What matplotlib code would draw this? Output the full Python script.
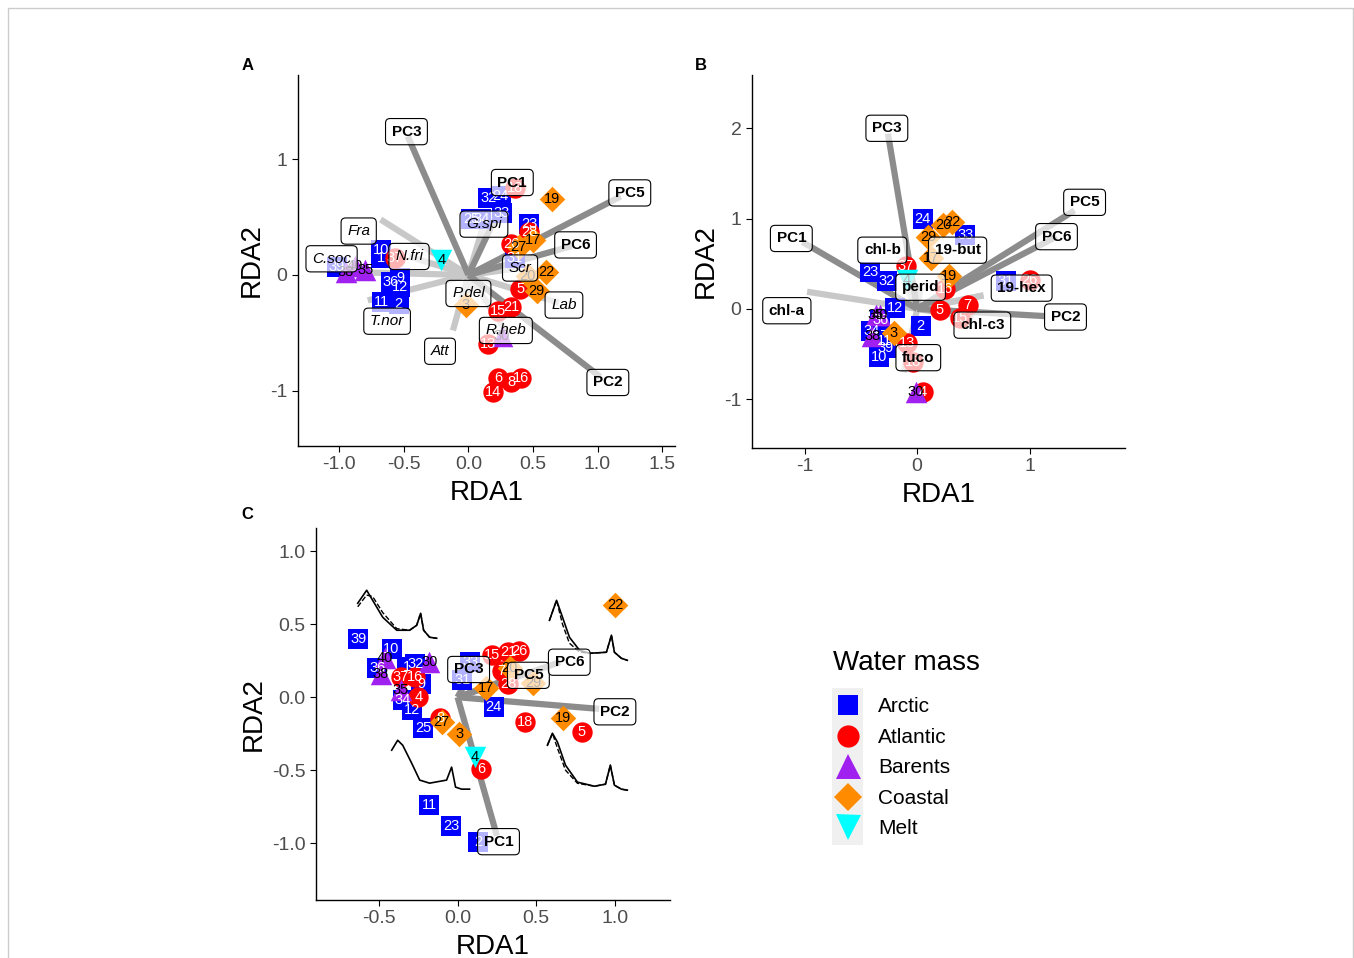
import matplotlib.pyplot as plt
from matplotlib.lines import Line2D
from matplotlib.patches import Rectangle

plt.rcParams['font.family'] = ['Liberation Sans', 'DejaVu Sans']
plt.rcParams['axes.unicode_minus'] = False

masses = ['Arctic', 'Atlantic', 'Barents', 'Coastal', 'Melt']
mass_col = {'Arctic': '#0000ff', 'Atlantic': '#ff0000', 'Barents': '#a020f0',
            'Coastal': '#ff8c00', 'Melt': '#00ffff'}
mass_mk = {'Arctic': 's', 'Atlantic': 'o', 'Barents': '^', 'Coastal': 'D', 'Melt': 'v'}
mass_sz = {'Arctic': 200, 'Atlantic': 215, 'Barents': 240, 'Coastal': 170, 'Melt': 240}
mass_txt = {'Arctic': 'white', 'Atlantic': 'white', 'Barents': 'black',
            'Coastal': 'black', 'Melt': 'black'}

# ---- panel A: samples
a_id = ['32', '24', '33', '25', '34', '23', '31', '10', '1', '39', '36', '9', '12', '11', '2',
        '18', '28', '26', '37', '5', '15', '21', '13', '6', '8', '16', '14',
        '38', '40', '35', '30',
        '19', '22', '29', '27', '17', '3', '20',
        '4']
a_x = [0.155, 0.25, 0.26, 0.02, 0.10, 0.47, 0.36, -0.68, -0.68, -1.02, -0.60, -0.53, -0.53, -0.67, -0.54,
       0.36, 0.47, 0.33, -0.57, 0.40, 0.23, 0.33, 0.15, 0.23, 0.33, 0.41, 0.19,
       -0.95, -0.88, -0.80, 0.26,
       0.65, 0.60, 0.53, 0.39, 0.50, -0.02, 0.46,
       -0.21]
a_y = [0.67, 0.68, 0.54, 0.48, 0.48, 0.44, 0.15, 0.22, 0.15, 0.07, -0.06, -0.03, -0.10, -0.23, -0.25,
       0.75, 0.37, 0.27, 0.15, -0.12, -0.31, -0.28, -0.60, -0.89, -0.93, -0.89, -1.01,
       0.03, 0.08, 0.04, -0.53,
       0.66, 0.03, -0.14, 0.24, 0.30, -0.26, -0.01,
       0.13]
a_mass = ['Arctic'] * 15 + ['Atlantic'] * 12 + ['Barents'] * 4 + ['Coastal'] * 7 + ['Melt']

# panel A: vectors (tip) and label positions
a_vec = ['PC3', 'PC1', 'PC5', 'PC6', 'PC2',
         'Fra', 'C.soc', 'N.fri', 'T.nor', 'Att', 'P.del', 'R.heb', 'Lab', 'Scr', 'G.spi']
a_vx = [-0.47, 0.33, 1.18, 0.80, 1.02, -0.68, -0.75, -0.46, -0.78, -0.12, 0.0, 0.29, 0.70, 0.40, 0.12]
a_vy = [1.20, 0.78, 0.68, 0.25, -0.88, 0.48, 0.02, 0.16, -0.22, -0.48, -0.16, -0.48, -0.24, 0.06, 0.44]
a_lx = [-0.48, 0.34, 1.25, 0.83, 1.08, -0.85, -1.06, -0.46, -0.63, -0.22, 0.0, 0.29, 0.74, 0.40, 0.12]
a_ly = [1.24, 0.80, 0.71, 0.26, -0.93, 0.38, 0.14, 0.16, -0.40, -0.66, -0.16, -0.48, -0.26, 0.06, 0.44]
a_kind = ['pc'] * 5 + ['sp'] * 10

# ---- panel B: samples
b_id = ['24', '33', '23', '32', '12', '2', '31', '34', '11', '39', '10', '36',
        '37', '5', '7', '15', '13', '18', '26', '16', '4',
        '30', '35', '40', '38',
        '29', '20', '22', '17', '19', '3',
        '4']
b_x = [0.05, 0.43, -0.42, -0.27, -0.20, 0.03, 0.79, -0.41, -0.29, -0.28, -0.34, -0.33,
       -0.10, 0.20, 0.45, 0.38, -0.09, -0.04, 1.00, 0.25, 0.05,
       -0.01, -0.37, -0.33, -0.40,
       0.10, 0.23, 0.31, 0.12, 0.28, -0.21,
       -0.09]
b_y = [0.99, 0.82, 0.41, 0.31, 0.01, -0.19, 0.31, -0.24, -0.35, -0.43, -0.53, -0.12,
       0.48, -0.01, 0.04, -0.10, -0.38, -0.59, 0.32, 0.22, -0.92,
       -0.92, -0.07, -0.07, -0.30,
       0.80, 0.93, 0.96, 0.56, 0.36, -0.27,
       0.32]
b_mass = ['Arctic'] * 12 + ['Atlantic'] * 9 + ['Barents'] * 4 + ['Coastal'] * 6 + ['Melt']

b_vec = ['PC3', 'PC1', 'PC5', 'PC6', 'PC2',
         'chl-a', 'chl-b', '19-but', 'perid', '19-hex', 'chl-c3', 'fuco']
b_vx = [-0.26, -1.02, 1.40, 1.24, 1.14, -0.98, -0.12, 0.59, 0.03, 0.59, 0.50, -0.12]
b_vy = [1.94, 0.74, 1.09, 0.80, -0.08, 0.19, 0.30, 0.15, 0.24, 0.15, -0.10, -0.70]
b_lx = [-0.27, -1.12, 1.49, 1.24, 1.32, -1.16, -0.31, 0.36, 0.03, 0.93, 0.58, 0.01]
b_ly = [2.00, 0.78, 1.18, 0.80, -0.09, -0.02, 0.65, 0.65, 0.24, 0.23, -0.18, -0.54]
b_kind = ['pc'] * 5 + ['sp'] * 7

# ---- panel C: samples
c_id = ['39', '10', '36', '1', '32', '9', '34', '12', '33', '31', '24', '25', '11', '23', '2',
        '15', '21', '26', '7', '28', '37', '16', '4', '18', '5', '6', '8',
        '40', '38', '30', '35',
        '22', '20', '29', '17', '19', '27', '3',
        '4']
c_x = [-0.63, -0.42, -0.51, -0.32, -0.27, -0.23, -0.35, -0.29, 0.08, 0.03, 0.23, -0.22, -0.18, -0.04, 0.13,
       0.22, 0.32, 0.39, 0.28, 0.32, -0.36, -0.27, -0.25, 0.43, 0.79, 0.15, -0.11,
       -0.46, -0.49, -0.18, -0.36,
       1.00, 0.33, 0.48, 0.18, 0.67, -0.10, 0.01,
       0.11]
c_y = [0.40, 0.33, 0.20, 0.21, 0.23, 0.09, -0.02, -0.09, 0.24, 0.12, -0.07, -0.21, -0.74, -0.88, -0.99,
       0.29, 0.31, 0.32, 0.18, 0.09, 0.14, 0.14, 0.0, -0.17, -0.24, -0.49, -0.14,
       0.27, 0.16, 0.24, 0.05,
       0.63, 0.20, 0.10, 0.06, -0.14, -0.17, -0.25,
       -0.41]
c_mass = ['Arctic'] * 15 + ['Atlantic'] * 12 + ['Barents'] * 4 + ['Coastal'] * 7 + ['Melt']

c_vec = ['PC1', 'PC2', 'PC3', 'PC5', 'PC6']
c_vx = [0.25, 0.90, 0.06, 0.39, 0.65]
c_vy = [-0.95, -0.08, 0.12, 0.15, 0.24]
c_lx = [0.26, 1.00, 0.07, 0.45, 0.71]
c_ly = [-0.99, -0.10, 0.19, 0.15, 0.24]
c_kind = ['pc'] * 5

# loading spectra drawn in panel C
s1_x = [-0.635, -0.578, -0.54, -0.476, -0.387, -0.305, -0.26, -0.235, -0.216, -0.178, -0.133]
s1_y = [0.644, 0.733, 0.664, 0.548, 0.459, 0.459, 0.493, 0.575, 0.459, 0.411, 0.404]
s1_yd = [0.62, 0.70, 0.69, 0.58, 0.47, 0.459, 0.493, 0.575, 0.459, 0.411, 0.404]
s2_x = [0.584, 0.629, 0.667, 0.711, 0.775, 0.838, 0.946, 0.978, 0.997, 1.041, 1.079]
s2_y = [0.527, 0.664, 0.548, 0.411, 0.322, 0.301, 0.308, 0.425, 0.308, 0.267, 0.253]
s2_yd = [0.527, 0.664, 0.50, 0.37, 0.31, 0.301, 0.308, 0.425, 0.308, 0.267, 0.253]
s3_x = [-0.419, -0.381, -0.349, -0.292, -0.241, -0.178, -0.07, -0.038, -0.013, 0.025, 0.076]
s3_y = [-0.363, -0.295, -0.329, -0.452, -0.568, -0.589, -0.568, -0.479, -0.616, -0.630, -0.630]
s4_x = [0.571, 0.603, 0.635, 0.686, 0.762, 0.870, 0.940, 0.971, 0.997, 1.041, 1.079]
s4_y = [-0.329, -0.247, -0.308, -0.466, -0.582, -0.610, -0.596, -0.466, -0.603, -0.630, -0.637]
s4_yd = [-0.329, -0.247, -0.35, -0.50, -0.59, -0.610, -0.596, -0.466, -0.603, -0.630, -0.637]


def draw_panel(ax, ids, xs, ys, mass, vec, vx, vy, lx, ly, kind, italic=False):
    for name, x, y, k in zip(vec, vx, vy, kind):
        col = '#8c8c8c' if k == 'pc' else '#c8c8c8'
        ax.plot([0, x], [0, y], color=col, lw=4.5, solid_capstyle='butt',
                zorder=2 if k == 'pc' else 1)
    for m in masses:
        px = [x for x, g in zip(xs, mass) if g == m]
        py = [y for y, g in zip(ys, mass) if g == m]
        ax.scatter(px, py, marker=mass_mk[m], s=mass_sz[m], color=mass_col[m],
                   linewidths=0, zorder=3)
    for t, x, y, g in zip(ids, xs, ys, mass):
        ax.text(x, y, t, ha='center', va='center', fontsize=10.5,
                color=mass_txt[g], zorder=4)
    for name, x, y, k in zip(vec, lx, ly, kind):
        style = 'italic' if (italic and k == 'sp') else 'normal'
        weight = 'normal' if (italic and k == 'sp') else 'bold'
        ax.text(x, y, name, ha='center', va='center', fontsize=11,
                fontstyle=style, fontweight=weight, zorder=5,
                bbox=dict(boxstyle='round,pad=0.4,rounding_size=0.3',
                          fc=(1, 1, 1, 0.7), ec='black', lw=0.8))
    for s in ['top', 'right']:
        ax.spines[s].set_visible(False)
    for s in ['left', 'bottom']:
        ax.spines[s].set_linewidth(1.0)
    ax.tick_params(labelsize=14, labelcolor='#4d4d4d', length=4, width=0.8)
    ax.set_xlabel('RDA1', fontsize=20, labelpad=5)
    ax.set_ylabel('RDA2', fontsize=20, labelpad=4)


fig = plt.figure(figsize=(13.54, 9.58), dpi=100)
fig.patches.append(Rectangle((8 / 1354, -0.01), 1345 / 1354, 1.0016, transform=fig.transFigure,
                             fill=False, ec='#cccccc', lw=1.0))

axA = fig.add_axes([0.2201, 0.5344, 0.2784, 0.3873])
draw_panel(axA, a_id, a_x, a_y, a_mass, a_vec, a_vx, a_vy, a_lx, a_ly, a_kind, italic=True)
axA.set_xlim(-1.32, 1.60)
axA.set_ylim(-1.48, 1.73)
axA.set_xticks([-1.0, -0.5, 0.0, 0.5, 1.0, 1.5])
axA.set_xticklabels(['-1.0', '-0.5', '0.0', '0.5', '1.0', '1.5'])
axA.set_yticks([-1, 0, 1])
axA.set_yticklabels(['-1', '0', '1'])

axB = fig.add_axes([0.5554, 0.5324, 0.2755, 0.3893])
draw_panel(axB, b_id, b_x, b_y, b_mass, b_vec, b_vx, b_vy, b_lx, b_ly, b_kind)
axB.set_xlim(-1.47, 1.85)
axB.set_ylim(-1.54, 2.59)
axB.set_xticks([-1, 0, 1])
axB.set_xticklabels(['-1', '0', '1'])
axB.set_yticks([-1, 0, 1, 2])
axB.set_yticklabels(['-1', '0', '1', '2'])

axC = fig.add_axes([0.2334, 0.0605, 0.2614, 0.3884])
draw_panel(axC, c_id, c_x, c_y, c_mass, c_vec, c_vx, c_vy, c_lx, c_ly, c_kind)
for sx, sy in [(s1_x, s1_y), (s2_x, s2_y), (s3_x, s3_y), (s4_x, s4_y)]:
    axC.plot(sx, sy, color='black', lw=1.2, zorder=2)
for sx, sy in [(s1_x, s1_yd), (s2_x, s2_yd), (s4_x, s4_yd)]:
    axC.plot(sx, sy, color='black', lw=1.0, ls='--', zorder=2)
axC.set_xlim(-0.90, 1.35)
axC.set_ylim(-1.39, 1.16)
axC.set_xticks([-0.5, 0.0, 0.5, 1.0])
axC.set_xticklabels(['-0.5', '0.0', '0.5', '1.0'])
axC.set_yticks([-1.0, -0.5, 0.0, 0.5, 1.0])
axC.set_yticklabels(['-1.0', '-0.5', '0.0', '0.5', '1.0'])

fig.text(0.183, 0.932, 'A', fontsize=12, fontweight='bold', ha='center', va='center')
fig.text(0.518, 0.932, 'B', fontsize=12, fontweight='bold', ha='center', va='center')
fig.text(0.183, 0.463, 'C', fontsize=12, fontweight='bold', ha='center', va='center')

# legend
fig.patches.append(Rectangle((832 / 1354, 1 - 845 / 958), 31 / 1354, 157 / 958,
                             transform=fig.transFigure, fc='#f0f0f0', ec='none', zorder=1))
fig.text(833 / 1354, 1 - 663 / 958, 'Water mass', fontsize=20, ha='left', va='center')
leg_ms = {'Arctic': 15, 'Atlantic': 16, 'Barents': 18, 'Coastal': 14, 'Melt': 18}
handles = [Line2D([], [], marker=mass_mk[m], color=mass_col[m], ls='',
                  markersize=leg_ms[m], markeredgewidth=0)
           for m in masses]
leg = fig.legend(handles, masses, loc='upper left', bbox_to_anchor=(0.605, 0.2915),
                 frameon=False, fontsize=15,
                 handletextpad=0.94, labelspacing=0.55, handlelength=1.0)

fig.savefig('out.png', dpi=100)
